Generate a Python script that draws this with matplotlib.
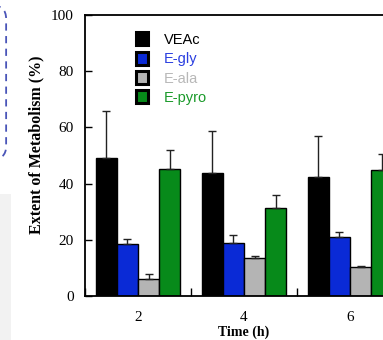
import numpy as np
import matplotlib
matplotlib.use("Agg")
import matplotlib.pyplot as plt
from matplotlib.patches import FancyBboxPatch, Rectangle, Patch

# data
times = [2, 4, 6]
series = ["VEAc", "E-gly", "E-ala", "E-pyro"]
veac = [49.2, 43.8, 42.3]
veac_err = [16.8, 14.8, 14.8]
egly = [18.6, 18.9, 21.0]
egly_err = [1.8, 2.9, 1.7]
eala = [6.2, 13.7, 10.2]
eala_err = [1.6, 0.5, 0.6]
epyro = [45.1, 31.3, 44.8]
epyro_err = [7.0, 4.7, 5.9]

values = [veac, egly, eala, epyro]
errors = [veac_err, egly_err, eala_err, epyro_err]
colors = ["#000000", "#0a2ad6", "#b4b4b4", "#078a1a"]
text_colors = ["#000000", "#2a3ee0", "#b8b8b8", "#1a9a2a"]

serif = ["Liberation Serif", "DejaVu Serif"]
sans = ["Liberation Sans", "DejaVu Sans"]

fig = plt.figure(figsize=(3.83, 3.40), dpi=100)

# left-side decorations (neighbouring panel remnants)
fig.patches.append(FancyBboxPatch((-0.1, 0.53), 0.116, 0.455,
                                  boxstyle="round,pad=0,rounding_size=0.04",
                                  transform=fig.transFigure, fill=False,
                                  edgecolor="#4a55b8", linewidth=1.3,
                                  linestyle=(0, (4, 3))))
fig.patches.append(Rectangle((0, 0), 0.028, 0.43, transform=fig.transFigure,
                             facecolor="#f2f2f2", edgecolor="none"))

ax = fig.add_axes([85 / 383, 44 / 340, 318 / 383, 281 / 340])

width = 0.4
offsets = [-0.6, -0.2, 0.2, 0.6]
x = np.array(times, dtype=float)
for vals, errs, col, off in zip(values, errors, colors, offsets):
    ax.bar(x + off, vals, width=width, color=col, edgecolor="black",
           linewidth=1.0, zorder=2)
    ax.errorbar(x + off, vals, yerr=[np.zeros(len(errs)), errs], fmt="none",
                ecolor="#222222", elinewidth=1.0, capsize=3, capthick=1.0,
                zorder=3)

ax.set_xlim(1, 7)
ax.set_ylim(0, 100)
ax.set_xticks(times)
ax.set_xticks([1, 3, 5, 7], minor=True)
ax.set_yticks([0, 20, 40, 60, 80, 100])
ax.tick_params(axis="x", which="major", length=0, pad=11)
ax.tick_params(axis="x", which="minor", direction="in", length=6, width=1)
ax.tick_params(axis="y", direction="in", length=5, width=1, pad=8)
for lab in ax.get_xticklabels() + ax.get_yticklabels():
    lab.set_family(serif)
    lab.set_fontsize(11)

for s in ["left", "bottom", "top"]:
    ax.spines[s].set_linewidth(1.3)
ax.spines["right"].set_visible(False)

ax.set_ylabel("Extent of Metabolism (%)", family=serif, fontweight="bold",
              fontsize=11.5, va="center")
ax.yaxis.set_label_coords(-0.154, 0.54)
ax.set_xlabel("Time (h)", family=serif, fontweight="bold", fontsize=10,
              labelpad=1)

handles = [Patch(facecolor=c, edgecolor="black", linewidth=2.2) for c in colors]
leg = ax.legend(handles, series, loc="upper left",
                bbox_to_anchor=(0.12, 0.985), frameon=False,
                handlelength=0.8, handleheight=1.0, handletextpad=1.1,
                labelspacing=0.33, prop={"family": sans, "size": 10.5})
for t, c in zip(leg.get_texts(), text_colors):
    t.set_color(c)

fig.savefig("out.png", dpi=100)
